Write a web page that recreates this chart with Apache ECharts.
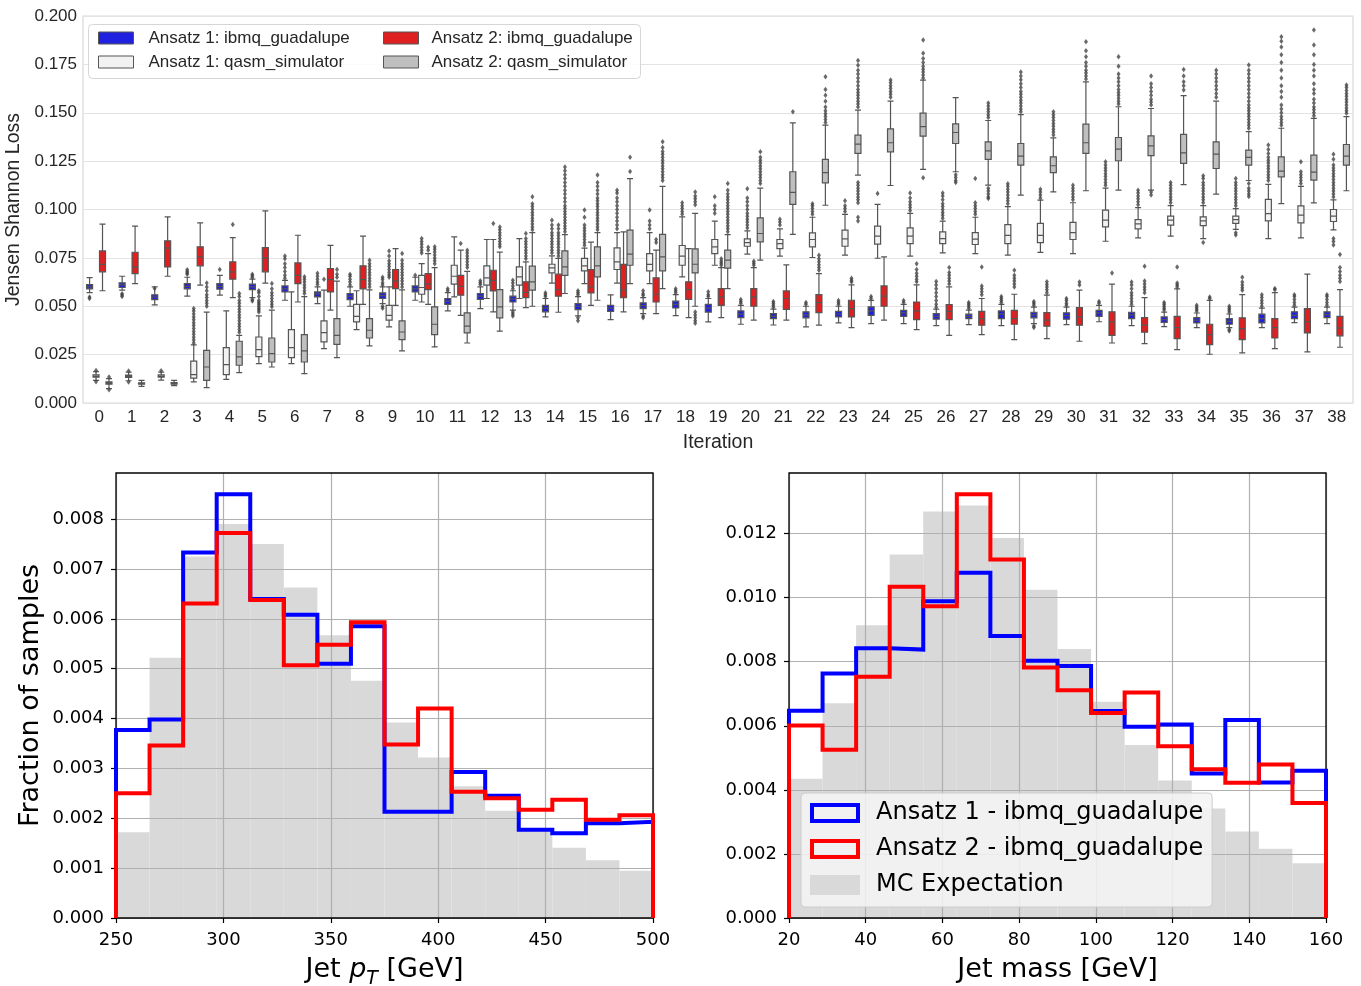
<!DOCTYPE html>
<html>
<head>
<meta charset="utf-8">
<script src="https://cdn.jsdelivr.net/npm/echarts@6/dist/echarts.min.js"></script>
<style>
html, body { margin: 0; padding: 0; background: #fff; }
#chart { width: 1361px; height: 986px; }
</style>
</head>
<body>
<div id="chart"></div>
<script>
// ---------- Jensen-Shannon loss per training iteration ----------
const iterations = ['0','1','2','3','4','5','6','7','8','9','10','11','12','13','14','15','16','17','18','19',
  '20','21','22','23','24','25','26','27','28','29','30','31','32','33','34','35','36','37','38'];
const lossTicks = [0, 0.025, 0.05, 0.075, 0.1, 0.125, 0.15, 0.175, 0.2];

// [min, Q1, median, Q3, max] per iteration
const a1Ibmq = [
  [0.0570,0.0590,0.0600,0.0612,0.0648],[0.0583,0.0597,0.0610,0.0621,0.0655],[0.0507,0.0534,0.0547,0.0559,0.0600],
  [0.0552,0.0590,0.0603,0.0617,0.0650],[0.0557,0.0588,0.0603,0.0617,0.0660],[0.0545,0.0586,0.0600,0.0614,0.0640],
  [0.0531,0.0574,0.0590,0.0605,0.0634],[0.0514,0.0548,0.0564,0.0574,0.0600],[0.0500,0.0534,0.0552,0.0566,0.0600],
  [0.0514,0.0540,0.0555,0.0569,0.0600],[0.0531,0.0574,0.0590,0.0605,0.0650],[0.0476,0.0510,0.0526,0.0540,0.0570],
  [0.0488,0.0536,0.0552,0.0566,0.0600],[0.0480,0.0522,0.0538,0.0552,0.0580],[0.0445,0.0471,0.0490,0.0505,0.0540],
  [0.0450,0.0483,0.0500,0.0514,0.0550],[0.0431,0.0474,0.0490,0.0505,0.0559],[0.0462,0.0488,0.0503,0.0517,0.0545],
  [0.0452,0.0491,0.0510,0.0526,0.0560],[0.0419,0.0470,0.0490,0.0510,0.0540],[0.0407,0.0441,0.0459,0.0476,0.0505],
  [0.0403,0.0436,0.0448,0.0462,0.0485],[0.0393,0.0440,0.0455,0.0471,0.0500],[0.0414,0.0445,0.0460,0.0474,0.0500],
  [0.0410,0.0453,0.0476,0.0497,0.0530],[0.0410,0.0448,0.0466,0.0479,0.0510],[0.0400,0.0433,0.0448,0.0462,0.0485],
  [0.0405,0.0436,0.0448,0.0459,0.0480],[0.0400,0.0436,0.0459,0.0476,0.0510],[0.0410,0.0440,0.0455,0.0469,0.0495],
  [0.0405,0.0433,0.0452,0.0466,0.0495],[0.0420,0.0448,0.0466,0.0479,0.0505],[0.0400,0.0436,0.0455,0.0469,0.0500],
  [0.0395,0.0417,0.0431,0.0445,0.0470],[0.0390,0.0414,0.0428,0.0441,0.0465],[0.0390,0.0407,0.0422,0.0436,0.0460],
  [0.0390,0.0414,0.0436,0.0459,0.0490],[0.0415,0.0436,0.0453,0.0471,0.0495],[0.0410,0.0441,0.0457,0.0471,0.0495]
];
const a1Qasm = [
  [0.0117,0.0133,0.0138,0.0145,0.0162],[0.0115,0.0132,0.0138,0.0144,0.0160],[0.0118,0.0133,0.0138,0.0145,0.0160],
  [0.0109,0.0129,0.0147,0.0216,0.0300],[0.0122,0.0147,0.0198,0.0286,0.0476],[0.0203,0.0240,0.0276,0.0341,0.0450],
  [0.0203,0.0234,0.0286,0.0379,0.0574],[0.0281,0.0316,0.0364,0.0424,0.0583],[0.0379,0.0419,0.0448,0.0510,0.0580],
  [0.0393,0.0428,0.0453,0.0505,0.0600],[0.0522,0.0562,0.0597,0.0660,0.0720],[0.0548,0.0614,0.0655,0.0712,0.0859],
  [0.0540,0.0609,0.0647,0.0709,0.0845],[0.0540,0.0609,0.0652,0.0703,0.0850],[0.0620,0.0672,0.0698,0.0717,0.0760],
  [0.0617,0.0683,0.0709,0.0747,0.0800],[0.0620,0.0690,0.0729,0.0802,0.0880],[0.0617,0.0683,0.0716,0.0772,0.0880],
  [0.0652,0.0712,0.0759,0.0814,0.0962],[0.0712,0.0772,0.0807,0.0845,0.0940],[0.0769,0.0810,0.0829,0.0848,0.0890],
  [0.0759,0.0798,0.0824,0.0845,0.0900],[0.0752,0.0807,0.0845,0.0879,0.0960],[0.0764,0.0810,0.0848,0.0893,0.0975],
  [0.0748,0.0821,0.0862,0.0914,0.1026],[0.0759,0.0824,0.0862,0.0905,0.0980],[0.0776,0.0824,0.0850,0.0884,0.0940],
  [0.0772,0.0819,0.0847,0.0881,0.0960],[0.0764,0.0824,0.0866,0.0922,0.1015],[0.0778,0.0829,0.0866,0.0928,0.1048],
  [0.0772,0.0845,0.0881,0.0933,0.1035],[0.0836,0.0910,0.0945,0.0997,0.1110],[0.0853,0.0900,0.0926,0.0948,0.1010],
  [0.0862,0.0919,0.0945,0.0966,0.1020],[0.0850,0.0917,0.0941,0.0962,0.1020],[0.0897,0.0928,0.0948,0.0966,0.1005],
  [0.0850,0.0941,0.0979,0.1052,0.1130],[0.0853,0.0931,0.0971,0.1019,0.1120],[0.0895,0.0938,0.0966,0.1000,0.1050]
];
const a2Ibmq = [
  [0.0580,0.0678,0.0716,0.0786,0.0924],[0.0617,0.0669,0.0703,0.0779,0.0914],[0.0655,0.0703,0.0800,0.0838,0.0962],
  [0.0609,0.0709,0.0755,0.0807,0.0931],[0.0545,0.0640,0.0678,0.0729,0.0855],[0.0620,0.0678,0.0750,0.0803,0.0993],
  [0.0522,0.0617,0.0660,0.0724,0.0867],[0.0480,0.0574,0.0638,0.0695,0.0815],[0.0510,0.0590,0.0638,0.0709,0.0862],
  [0.0505,0.0591,0.0631,0.0690,0.0798],[0.0510,0.0586,0.0614,0.0669,0.0772],[0.0453,0.0557,0.0603,0.0660,0.0790],
  [0.0471,0.0579,0.0634,0.0686,0.0845],[0.0493,0.0545,0.0572,0.0626,0.0729],[0.0469,0.0552,0.0586,0.0666,0.0747],
  [0.0505,0.0569,0.0600,0.0690,0.0831],[0.0471,0.0545,0.0583,0.0716,0.0884],[0.0462,0.0522,0.0562,0.0647,0.0790],
  [0.0441,0.0536,0.0586,0.0626,0.0798],[0.0441,0.0505,0.0548,0.0591,0.0700],[0.0428,0.0500,0.0548,0.0591,0.0700],
  [0.0428,0.0484,0.0540,0.0579,0.0714],[0.0402,0.0467,0.0519,0.0560,0.0669],[0.0390,0.0445,0.0488,0.0531,0.0610],
  [0.0428,0.0500,0.0552,0.0605,0.0755],[0.0379,0.0431,0.0476,0.0522,0.0610],[0.0350,0.0431,0.0474,0.0509,0.0600],
  [0.0353,0.0402,0.0436,0.0474,0.0540],[0.0328,0.0407,0.0436,0.0479,0.0562],[0.0333,0.0397,0.0428,0.0467,0.0557],
  [0.0319,0.0402,0.0445,0.0493,0.0583],[0.0310,0.0350,0.0419,0.0471,0.0614],[0.0307,0.0366,0.0402,0.0441,0.0545],
  [0.0276,0.0333,0.0390,0.0448,0.0590],[0.0252,0.0302,0.0353,0.0407,0.0530],[0.0259,0.0328,0.0384,0.0440,0.0560],
  [0.0281,0.0336,0.0390,0.0436,0.0570],[0.0264,0.0362,0.0420,0.0488,0.0666],[0.0288,0.0347,0.0388,0.0448,0.0586]
];
const a2Qasm = [
  [0.0074,0.0097,0.0103,0.0109,0.0126],[0.0086,0.0097,0.0100,0.0104,0.0117],[0.0090,0.0098,0.0102,0.0105,0.0117],
  [0.0079,0.0117,0.0186,0.0272,0.0470],[0.0157,0.0195,0.0238,0.0319,0.0350],[0.0186,0.0212,0.0255,0.0336,0.0480],
  [0.0152,0.0212,0.0269,0.0353,0.0550],[0.0234,0.0303,0.0350,0.0436,0.0630],[0.0295,0.0336,0.0376,0.0436,0.0585],
  [0.0269,0.0328,0.0367,0.0424,0.0585],[0.0290,0.0353,0.0407,0.0497,0.0700],[0.0310,0.0362,0.0397,0.0466,0.0680],
  [0.0371,0.0440,0.0497,0.0586,0.0780],[0.0500,0.0583,0.0626,0.0707,0.0880],[0.0566,0.0660,0.0703,0.0786,0.0870],
  [0.0531,0.0652,0.0709,0.0807,0.0880],[0.0617,0.0712,0.0769,0.0893,0.1160],[0.0591,0.0683,0.0755,0.0871,0.1120],
  [0.0500,0.0672,0.0717,0.0797,0.0980],[0.0591,0.0697,0.0738,0.0790,0.0870],[0.0738,0.0833,0.0876,0.0957,0.1110],
  [0.0871,0.1026,0.1088,0.1195,0.1448],[0.1022,0.1138,0.1191,0.1259,0.1436],[0.1178,0.1290,0.1338,0.1384,0.1514],
  [0.1124,0.1298,0.1345,0.1417,0.1560],[0.1207,0.1379,0.1428,0.1498,0.1669],[0.1195,0.1341,0.1398,0.1443,0.1578],
  [0.1126,0.1259,0.1303,0.1350,0.1460],[0.1074,0.1229,0.1276,0.1341,0.1490],[0.1091,0.1191,0.1226,0.1272,0.1370],
  [0.1097,0.1290,0.1345,0.1441,0.1660],[0.1100,0.1252,0.1312,0.1372,0.1531],[0.1100,0.1278,0.1329,0.1381,0.1522],
  [0.1129,0.1238,0.1293,0.1388,0.1588],[0.1079,0.1212,0.1286,0.1350,0.1560],[0.1150,0.1229,0.1269,0.1307,0.1402],
  [0.1030,0.1169,0.1198,0.1272,0.1420],[0.1034,0.1152,0.1193,0.1281,0.1471],[0.1097,0.1229,0.1276,0.1336,0.1480]
];

// outlying samples beyond the whiskers, per iteration
const a1IbmqOut = [
  [0.0548,0.0540],[0.0565,0.0558,0.0550],[0.0592],[0.0665,0.0672,0.0680,0.0688],[0.0690],
  [0.0648,0.0658,0.0665,0.0535,0.0527],[0.0645,0.0660,0.0680,0.0700,0.0720,0.0745,0.0760],
  [0.0612,0.0625,0.0640,0.0655,0.0670],[0.0610,0.0625,0.0640,0.0655,0.0665],[0.0610,0.0622,0.0638,0.0650,0.0500,0.0490],
  [0.0660],[0.0580,0.0590],[0.0612,0.0622,0.0632],[0.0590,0.0605,0.0620,0.0635,0.0470,0.0460,0.0450],
  [0.0550,0.0560,0.0570],[0.0560,0.0570,0.0580,0.0440,0.0425],[],[0.0555,0.0565,0.0580,0.0450,0.0440],
  [0.0570,0.0580,0.0590],[0.0550,0.0560,0.0575],[0.0515,0.0525,0.0535],[0.0495,0.0505,0.0515,0.0525],
  [0.0510,0.0520],[0.0510,0.0520,0.0530],[0.0540,0.0550],[0.0520,0.0530],
  [0.0495,0.0510,0.0530,0.0550,0.0570,0.0590,0.0610,0.0628],[0.0490,0.0500,0.0510,0.0520],
  [0.0520,0.0530,0.0540,0.0550],[0.0505,0.0515,0.0525,0.0398,0.0390],[0.0505,0.0515,0.0530,0.0540],
  [0.0515,0.0525],[0.0510,0.0525,0.0540,0.0555,0.0570,0.0590,0.0610,0.0625],[0.0480,0.0490,0.0500,0.0510,0.0520],
  [0.0475,0.0485,0.0495,0.0505],[0.0470,0.0480,0.0490,0.0500,0.0380,0.0372],[0.0500,0.0515,0.0530,0.0545,0.0560],
  [0.0505,0.0520,0.0535,0.0550,0.0560],[0.0505,0.0520,0.0535,0.0550,0.0560]
];
const a1QasmOut = [
  [0.0168,0.0110],[0.0166,0.0108],[0.0167],
  [0.0310,0.0325,0.0340,0.0355,0.0370,0.0385,0.0400,0.0415,0.0430,0.0445,0.0460,0.0475,0.0488],
  [],[0.0470,0.0480,0.0490,0.0500,0.0510,0.0520,0.0530,0.0550,0.0570,0.0580],[],[0.0640],[],
  [0.0650,0.0662,0.0675,0.0690,0.0705,0.0720,0.0735,0.0760,0.0785],[0.0775,0.0790,0.0805,0.0820,0.0835,0.0850],
  [],[],[],
  [0.0775,0.0790,0.0805,0.0820,0.0835,0.0850,0.0865,0.0880,0.0900,0.0920,0.0945],
  [0.0815,0.0830,0.0845,0.0860,0.0875,0.0890,0.0905,0.0920,0.0960,0.0997],
  [0.0900,0.0920,0.0940,0.0960,0.0980,0.1000,0.1020,0.1040,0.1060,0.1085,0.1100],
  [0.0900,0.0920,0.0940,0.0997],[0.0975,0.0990,0.1005,0.1020,0.1035],[0.0980,0.1000,0.1020,0.1066],
  [0.0905,0.0920,0.0935,0.0950,0.0965,0.0980,0.1000,0.1020,0.1040,0.1060,0.1107],[0.0920,0.0935,0.0950],
  [0.0975,0.0990,0.1005,0.1020,0.1030],[0.0990,0.1005,0.1020,0.1045],[0.1083],
  [0.0995,0.1010,0.1025,0.1040,0.1060,0.1085],[0.0955,0.0970,0.0985,0.1000,0.1015,0.1030,0.1050,0.1070,0.1085],
  [0.0975,0.0990,0.1005,0.1020,0.1035,0.1160],[0.1030,0.1045,0.1060,0.1075,0.1090,0.1105,0.1120,0.1133],
  [0.1060,0.1075,0.1090,0.1105],[0.1050,0.1065,0.1080,0.1095,0.1110,0.1125],
  [0.1125,0.1140,0.1155,0.1170,0.1185,0.1200,0.1215,0.1230,0.1247],[0.1025,0.1040,0.1055,0.1070,0.1085,0.1100],
  [0.1035,0.1050,0.1065,0.1080,0.1095,0.1110,0.1125,0.1140],
  [0.1035,0.1050,0.1065,0.1080,0.1095,0.1110,0.1125,0.1140,0.1160,0.1175,0.0829],
  [0.1020,0.1035,0.1050,0.1065,0.1080,0.1095,0.1110,0.1125,0.1140,0.1160,0.0880,0.0868],
  [0.1150,0.1165,0.1180,0.1195,0.1210,0.1225,0.1240,0.1255,0.1270,0.1290,0.1310,0.1333],
  [0.1135,0.1150,0.1165,0.1180,0.1195,0.1247],
  [0.1065,0.1080,0.1095,0.1110,0.1125,0.1140,0.1155,0.1170,0.1185,0.1200,0.1215,0.1230,0.1260,0.1286,0.0850,0.0835,0.0817]
];
const a2IbmqOut = [
  [],[],[],[],[0.0922],[],[],[],[],[],[0.0790,0.0805],[0.0824],[0.0928],
  [0.0745,0.0760,0.0775,0.0790,0.0805,0.0820,0.0835,0.0850,0.0876],
  [0.0760,0.0775,0.0790,0.0805,0.0820,0.0835,0.0850,0.0865,0.0880,0.0900,0.0920],
  [],[],[0.0830,0.0845],[],[0.0712,0.0722,0.0732,0.0745],[0.0712,0.0722,0.0732],[],
  [0.0686,0.0700,0.0715,0.0730,0.0745,0.0764],[0.0625,0.0635,0.0645],[],
  [0.0626,0.0640,0.0655,0.0670,0.0690,0.0720],[0.0615,0.0630,0.0645,0.0660,0.0675,0.0700],
  [0.0560,0.0575,0.0590,0.0605,0.0703],[0.0600,0.0615,0.0630,0.0645,0.0660,0.0686],
  [0.0570,0.0585,0.0600,0.0613,0.0626],[0.0610,0.0625],[0.0672],
  [0.0570,0.0585,0.0600,0.0615,0.0630,0.0707],[0.0600,0.0610,0.0620,0.0703],[0.0540,0.0548],
  [0.0583,0.0595,0.0610,0.0625,0.0650],[0.0585,0.0592],[],[0.0628,0.0645,0.0660,0.0680,0.0700,0.0767]
];
const a2QasmOut = [
  [0.0135,0.0068],[],[],
  [0.0500,0.0515,0.0530,0.0545,0.0560,0.0580,0.0600,0.0620],
  [0.0365,0.0380,0.0395,0.0410,0.0425,0.0440,0.0455,0.0470,0.0485,0.0500,0.0515,0.0530,0.0550,0.0566],
  [0.0497,0.0510,0.0525,0.0540,0.0555,0.0570,0.0590,0.0617],[0.0566,0.0580,0.0595,0.0610,0.0625,0.0640,0.0652],
  [0.0650,0.0665,0.0690],[0.0600,0.0615,0.0630,0.0645,0.0660,0.0675,0.0690,0.0705,0.0720,0.0738],
  [0.0600,0.0615,0.0630,0.0645,0.0660,0.0675,0.0690,0.0705,0.0720,0.0738,0.0772],
  [0.0720,0.0735,0.0750,0.0765,0.0780,0.0795,0.0807],[0.0700,0.0715,0.0730,0.0745,0.0760,0.0775,0.0790],
  [0.0807,0.0820,0.0835,0.0850,0.0865,0.0880,0.0895,0.0910],
  [0.0895,0.0910,0.0925,0.0940,0.0955,0.0970,0.0985,0.1000,0.1015,0.1030,0.1066],
  [0.0885,0.0900,0.0915,0.0930,0.0945,0.0960,0.0975,0.0990,0.1005,0.1020,0.1040,0.1060,0.1080,0.1100,0.1120,0.1140,0.1160,0.1180,0.1200,0.1220],
  [0.0895,0.0910,0.0925,0.0940,0.0955,0.0970,0.0985,0.1000,0.1015,0.1030,0.1045,0.1060,0.1080,0.1100,0.1120,0.1140,0.1178],
  [0.1197,0.1270],
  [0.1150,0.1165,0.1180,0.1195,0.1210,0.1225,0.1240,0.1255,0.1270,0.1285,0.1300,0.1320,0.1350],
  [0.1024,0.1040,0.1055,0.1070,0.1090,0.0470,0.0455,0.0440,0.0425,0.0412],
  [0.0885,0.0900,0.0915,0.0930,0.0945,0.0960,0.0975,0.0990,0.1005,0.1020,0.1035,0.1050,0.1065,0.1080,0.1100,0.1134],
  [0.1134,0.1150,0.1165,0.1180,0.1195,0.1210,0.1225,0.1240,0.1255,0.1270,0.1298],
  [0.1505],
  [0.1450,0.1465,0.1480,0.1495,0.1510,0.1530,0.1560,0.1590,0.1620,0.1686],
  [0.1530,0.1545,0.1560,0.1575,0.1590,0.1605,0.1620,0.1640,0.1660,0.1680,0.1700,0.1720,0.1745,0.1770,
   0.1140,0.1125,0.1110,0.1095,0.1080,0.1065,0.1050,0.1035,0.0960,0.0940],
  [0.1580,0.1595,0.1610,0.1625,0.1640,0.1655,0.1669],
  [0.1680,0.1695,0.1710,0.1725,0.1740,0.1760,0.1780,0.1807,0.1876,0.1164],
  [0.1180,0.1165,0.1150,0.1140],
  [0.1475,0.1490,0.1505,0.1520,0.1535,0.1550,0.1110,0.1095,0.1080,0.1065,0.1057],
  [0.1505,0.1520,0.1535,0.1550,0.1565,0.1580,0.1595,0.1610,0.1630,0.1650,0.1670,0.1690,0.1710],
  [0.1385,0.1400,0.1415,0.1430,0.1445,0.1460,0.1475,0.1490,0.1505],
  [0.1675,0.1690,0.1705,0.1720,0.1740,0.1760,0.1790,0.1820,0.1867],
  [0.1545,0.1560,0.1575,0.1590,0.1605,0.1620,0.1640,0.1660,0.1680,0.1700,0.1740,0.1790],
  [0.1540,0.1555,0.1570,0.1590,0.1610,0.1630,0.1650,0.1690,0.1090,0.1075],
  [0.1617,0.1640,0.1660,0.1690,0.1724],
  [0.1580,0.1600,0.1620,0.1640,0.1660,0.1680,0.1700,0.1720],
  [0.1420,0.1435,0.1450,0.1465,0.1480,0.1495,0.1510,0.1525,0.1540,0.1560,0.1580,0.1600,0.1620,0.1640,0.1660,
   0.1680,0.1700,0.1720,0.1747,0.1134,0.1110,0.1095,0.1080,0.1067],
  [0.1435,0.1450,0.1465,0.1480,0.1500,0.1520,0.1540,0.1580,0.1610,0.1640,0.1680,0.1720,0.1760,0.1800,0.1840,0.1870,0.1893],
  [0.1485,0.1500,0.1515,0.1530,0.1550,0.1570,0.1600,0.1620,0.1650,0.1690,0.1720,0.1750,0.1800,0.1850,0.1928],
  [0.1498,0.1510,0.1525,0.1540,0.1555,0.1570,0.1585,0.1600,0.1615,0.1630,0.1643]
];

// ---------- generated jet distributions ----------
const ptEdges = [250,265.625,281.25,296.875,312.5,328.125,343.75,359.375,375,390.625,406.25,421.875,437.5,453.125,468.75,484.375,500];
const ptTicks = [250, 300, 350, 400, 450, 500];
const ptFracTicks = [0,0.001,0.002,0.003,0.004,0.005,0.006,0.007,0.008];
const ptMC = [0.00172,0.00522,0.00725,0.00790,0.00750,0.00663,0.00567,0.00476,0.00392,0.00322,0.00264,0.00215,0.00180,0.00141,0.00116,0.00095];
const ptAnsatz1 = [0.00377,0.00398,0.00733,0.00850,0.00640,0.00608,0.00510,0.00585,0.00213,0.00213,0.00293,0.00245,0.00177,0.00170,0.00190,0.00193];
const ptAnsatz2 = [0.00250,0.00346,0.00631,0.00772,0.00638,0.00507,0.00548,0.00593,0.00348,0.00420,0.00253,0.00240,0.00217,0.00237,0.00197,0.00206];

const massEdges = [20,28.75,37.5,46.25,55,63.75,72.5,81.25,90,98.75,107.5,116.25,125,133.75,142.5,151.25,160];
const massTicks = [20, 40, 60, 80, 100, 120, 140, 160];
const massFracTicks = [0,0.002,0.004,0.006,0.008,0.010,0.012];
const massMC = [0.00435,0.00670,0.00914,0.01135,0.01269,0.01288,0.01186,0.01025,0.00840,0.00675,0.00540,0.00429,0.00342,0.00270,0.00216,0.00171];
const massAnsatz1 = [0.00647,0.00763,0.00842,0.00838,0.00989,0.01078,0.00880,0.00803,0.00787,0.00646,0.00597,0.00604,0.00451,0.00618,0.00423,0.00460];
const massAnsatz2 = [0.00601,0.00525,0.00753,0.01034,0.00973,0.01323,0.01119,0.00782,0.00711,0.00640,0.00704,0.00536,0.00464,0.00422,0.00479,0.00359];

// ---------- helpers ----------
const A1_IBMQ = 'Ansatz 1: ibmq_guadalupe', A1_QASM = 'Ansatz 1: qasm_simulator';
const A2_IBMQ = 'Ansatz 2: ibmq_guadalupe', A2_QASM = 'Ansatz 2: qasm_simulator';
const LINE_GRAY = '#555555';
const SANS = 'Liberation Sans, Arial, sans-serif';
const DEJAVU = 'DejaVu Sans, sans-serif';

// hue offsets (in category units) of the four side-by-side boxes
const hueOffsets = [-0.3, -0.1, 0.1, 0.3];

function boxSeries(name, data, fill) {
  return {
    type: 'boxplot', name, data, xAxisIndex: 0, yAxisIndex: 0,
    boxWidth: [6, 6],
    itemStyle: { color: fill, borderColor: LINE_GRAY, borderWidth: 1.2 },
    emphasis: { disabled: true },
    z: 3
  };
}
function outlierSeries(list, hue) {
  const pts = [];
  list.forEach((vals, i) => vals.forEach(v => pts.push([i + hueOffsets[hue], v])));
  return {
    type: 'scatter', name: 'fliers-' + hue, data: pts, xAxisIndex: 1, yAxisIndex: 0,
    symbol: 'diamond', symbolSize: [4, 5.5],
    itemStyle: { color: '#444444' }, silent: true, z: 4
  };
}
function stepPoints(edges, vals) {
  const pts = [[edges[0], 0]];
  vals.forEach((v, k) => pts.push([edges[k], v]));
  pts.push([edges[edges.length - 1], vals[vals.length - 1]]);
  pts.push([edges[edges.length - 1], 0]);
  return pts;
}
function stepSeries(name, edges, vals, color, axisIdx) {
  return {
    type: 'line', name, step: 'end', data: stepPoints(edges, vals),
    xAxisIndex: axisIdx, yAxisIndex: axisIdx - 1,
    showSymbol: false, clip: false, silent: true,
    lineStyle: { color, width: 4, join: 'miter' },
    itemStyle: { color }, z: 5
  };
}
function mcSeries(edges, vals, axisIdx) {
  return {
    type: 'custom', name: 'MC Expectation', xAxisIndex: axisIdx, yAxisIndex: axisIdx - 1,
    data: vals.map((v, k) => [edges[k], edges[k + 1], v]),
    encode: { x: [0, 1], y: 2 },
    itemStyle: { color: '#d9d9d9' },
    renderItem(params, api) {
      const p0 = api.coord([api.value(0), api.value(2)]);
      const p1 = api.coord([api.value(1), 0]);
      return { type: 'rect', shape: { x: p0[0], y: p0[1], width: p1[0] - p0[0], height: p1[1] - p0[1] },
               style: { fill: '#d9d9d9' } };
    },
    silent: true, z: 1
  };
}
function histX(gridIndex, lo, hi, ticks, nameRich) {
  return {
    type: 'value', gridIndex, min: lo, max: hi, interval: ticks[1] - ticks[0],
    z: 2,
    axisLine: { show: false },
    axisTick: { show: true, length: 5, lineStyle: { color: '#000', width: 1.2 } },
    axisLabel: { color: '#000', fontSize: 18, fontFamily: DEJAVU, margin: 13 },
    splitLine: { show: true, lineStyle: { color: '#b0b0b0', width: 1.2 } },
    name: nameRich.text, nameLocation: 'middle', nameGap: 33,
    nameTextStyle: nameRich.style
  };
}
function histY(gridIndex, vals, ticks, axisName) {
  const top = Math.max(...vals) * 1.05;
  return {
    type: 'value', gridIndex, min: 0, max: top, interval: ticks[1] - ticks[0],
    z: 2,
    axisLine: { show: false },
    axisTick: { show: true, length: 5, lineStyle: { color: '#000', width: 1.2 }, customValues: ticks },
    axisLabel: { color: '#000', fontSize: 18, fontFamily: DEJAVU, margin: 12, customValues: ticks,
                 formatter: v => v.toFixed(3) },
    splitLine: { show: true, lineStyle: { color: '#b0b0b0', width: 1.2 } },
    name: axisName, nameLocation: 'middle', nameGap: 72,
    nameTextStyle: { color: '#000', fontSize: 27, fontFamily: DEJAVU }
  };
}

const chart = echarts.init(document.getElementById('chart'), null, { renderer: 'canvas' });

const option = {
  animation: false,
  backgroundColor: '#ffffff',
  grid: [
    { left: 83, top: 16, width: 1270, height: 387, show: true, borderColor: '#d9d9d9', borderWidth: 1.2,
      containLabel: false, outerBoundsMode: 'none' },
    { left: 116, top: 473, width: 537, height: 445, show: true, borderColor: '#000', borderWidth: 1.3, z: 3,
      containLabel: false, outerBoundsMode: 'none' },
    { left: 789, top: 473, width: 537, height: 445, show: true, borderColor: '#000', borderWidth: 1.3, z: 3,
      containLabel: false, outerBoundsMode: 'none' }
  ],
  xAxis: [
    {
      type: 'category', gridIndex: 0, data: iterations,
      axisLine: { show: false }, axisTick: { show: false },
      axisLabel: { color: '#262626', fontSize: 17, fontFamily: SANS, margin: 6 },
      name: 'Iteration', nameLocation: 'middle', nameGap: 30,
      nameTextStyle: { color: '#262626', fontSize: 19.5, fontFamily: SANS }
    },
    { type: 'value', gridIndex: 0, min: -0.5, max: iterations.length - 0.5, show: false },
    histX(1, ptEdges[0], ptEdges[ptEdges.length - 1], ptTicks, {
      text: '{n|Jet }{i|p}{s|T}{n| [GeV]}',
      style: { color: '#000', fontFamily: DEJAVU, fontSize: 27,
        rich: {
          n: { fontSize: 27, fontFamily: DEJAVU, color: '#000', lineHeight: 38, verticalAlign: 'middle' },
          i: { fontSize: 27, fontFamily: DEJAVU, fontStyle: 'italic', color: '#000', lineHeight: 38, verticalAlign: 'middle' },
          s: { fontSize: 19, fontFamily: DEJAVU, fontStyle: 'italic', color: '#000', lineHeight: 19, verticalAlign: 'bottom' }
        } }
    }),
    histX(2, massEdges[0], massEdges[massEdges.length - 1], massTicks, {
      text: 'Jet mass [GeV]',
      style: { color: '#000', fontFamily: DEJAVU, fontSize: 27, lineHeight: 38 }
    })
  ],
  yAxis: [
    {
      type: 'value', gridIndex: 0, min: lossTicks[0], max: lossTicks[lossTicks.length - 1], interval: lossTicks[1] - lossTicks[0],
      axisLine: { show: false }, axisTick: { show: false },
      axisLabel: { color: '#262626', fontSize: 17, fontFamily: SANS, margin: 6, formatter: v => v.toFixed(3) },
      splitLine: { lineStyle: { color: '#e3e3e3', width: 1.1 } },
      name: 'Jensen Shannon Loss', nameLocation: 'middle', nameGap: 54,
      nameTextStyle: { color: '#262626', fontSize: 19.5, fontFamily: SANS }
    },
    histY(1, ptAnsatz1.concat(ptAnsatz2, ptMC), ptFracTicks, 'Fraction of samples'),
    Object.assign(histY(2, massAnsatz1.concat(massAnsatz2, massMC), massFracTicks, ''), { name: '' })
  ],
  legend: [
    {
      left: 98, top: 29, orient: 'vertical', itemWidth: 35, itemHeight: 12, itemGap: 6, padding: 0,
      selectedMode: false, icon: 'rect',
      textStyle: { color: '#262626', fontSize: 17, fontFamily: SANS, lineHeight: 18, padding: [0, 0, 0, 10] },
      data: [
        { name: A1_IBMQ, itemStyle: { color: '#2020df', borderColor: LINE_GRAY, borderWidth: 1 } },
        { name: A1_QASM, itemStyle: { color: '#f2f2f2', borderColor: LINE_GRAY, borderWidth: 1 } }
      ]
    },
    {
      left: 383, top: 29, orient: 'vertical', itemWidth: 35, itemHeight: 12, itemGap: 6, padding: 0,
      selectedMode: false, icon: 'rect',
      textStyle: { color: '#262626', fontSize: 17, fontFamily: SANS, lineHeight: 18, padding: [0, 0, 0, 8] },
      data: [
        { name: A2_IBMQ, itemStyle: { color: '#df2020', borderColor: LINE_GRAY, borderWidth: 1 } },
        { name: A2_QASM, itemStyle: { color: '#bfbfbf', borderColor: LINE_GRAY, borderWidth: 1 } }
      ]
    },
    {
      left: 801, top: 793, orient: 'vertical', itemWidth: 46, itemHeight: 16, itemGap: 8,
      padding: [6, 9, 8, 9], selectedMode: false,
      backgroundColor: 'rgba(245,245,245,0.85)', borderColor: '#cccccc', borderWidth: 1, borderRadius: 4,
      textStyle: { color: '#000', fontSize: 24, fontFamily: DEJAVU, lineHeight: 28, padding: [0, 0, 0, 13] },
      data: [
        { name: 'Ansatz 1 - ibmq_guadalupe', icon: 'rect',
          itemStyle: { color: 'rgba(0,0,0,0)', borderColor: '#0000ff', borderWidth: 4 } },
        { name: 'Ansatz 2 - ibmq_guadalupe', icon: 'rect',
          itemStyle: { color: 'rgba(0,0,0,0)', borderColor: '#ff0000', borderWidth: 4 } },
        { name: 'MC Expectation', icon: 'rect',
          itemStyle: { color: '#d9d9d9', borderColor: '#d9d9d9', borderWidth: 4 } }
      ]
    }
  ],
  graphic: [
    {
      type: 'rect', left: 88, top: 24, z: 1,
      shape: { width: 552, height: 54, r: 4 },
      style: { fill: 'rgba(255,255,255,0.85)', stroke: '#d6d6d6', lineWidth: 1 }
    }
  ],
  series: [
    boxSeries(A1_IBMQ, a1Ibmq, '#2020df'),
    boxSeries(A1_QASM, a1Qasm, '#f2f2f2'),
    boxSeries(A2_IBMQ, a2Ibmq, '#df2020'),
    boxSeries(A2_QASM, a2Qasm, '#bfbfbf'),
    outlierSeries(a1IbmqOut, 0),
    outlierSeries(a1QasmOut, 1),
    outlierSeries(a2IbmqOut, 2),
    outlierSeries(a2QasmOut, 3),

    mcSeries(ptEdges, ptMC, 2),
    stepSeries('Ansatz 1 - ibmq_guadalupe', ptEdges, ptAnsatz1, '#0000ff', 2),
    stepSeries('Ansatz 2 - ibmq_guadalupe', ptEdges, ptAnsatz2, '#ff0000', 2),

    mcSeries(massEdges, massMC, 3),
    stepSeries('Ansatz 1 - ibmq_guadalupe', massEdges, massAnsatz1, '#0000ff', 3),
    stepSeries('Ansatz 2 - ibmq_guadalupe', massEdges, massAnsatz2, '#ff0000', 3)
  ]
};

chart.setOption(option);
</script>
</body>
</html>
